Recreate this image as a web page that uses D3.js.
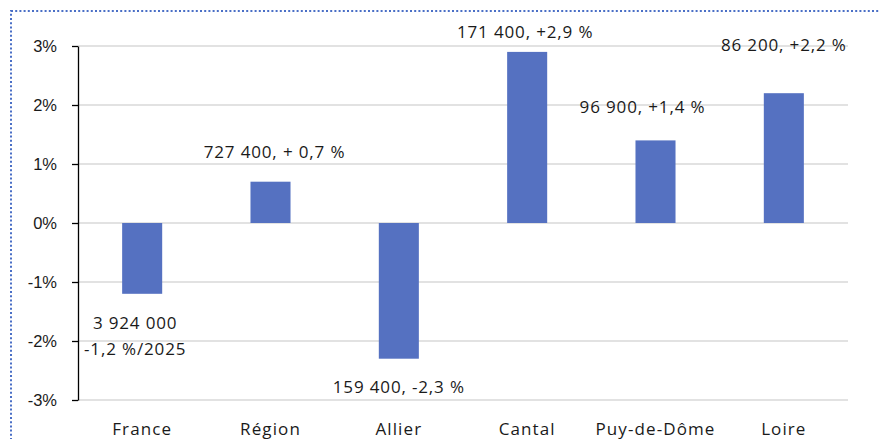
<!DOCTYPE html>
<html>
<head>
<meta charset="utf-8">
<script src="https://cdn.jsdelivr.net/npm/d3@7"></script>
<style>
  html, body { margin: 0; padding: 0; background: #fff; overflow: hidden; }
  .tick-label { font-family: "Liberation Sans", Arial, sans-serif; font-size: 16.5px; fill: #1a1a1a; }
  .cat-label { font-family: "Open Sans", "Noto Sans", sans-serif; font-size: 17px; letter-spacing: 1.1px; fill: #1a1a1a; }
  .val-label { font-family: "Open Sans", "Noto Sans", sans-serif; font-size: 17px; letter-spacing: 0.85px; fill: #1a1a1a; }
</style>
</head>
<body>
<div id="chart"></div>
<script>
// data
const categories = ['France', 'Région', 'Allier', 'Cantal', 'Puy-de-Dôme', 'Loire'];
const changes = [-1.2, 0.7, -2.3, 2.9, 1.4, 2.2];
const valueLabels = [
    ['3 924 000', '-1,2 %/2025'],
    ['727 400, + 0,7 %'],
    ['159 400, -2,3 %'],
    ['171 400, +2,9 %'],
    ['96 900, +1,4 %'],
    ['86 200, +2,2 %']
];
const yTicks = [-3, -2, -1, 0, 1, 2, 3];

// label nudges (labels were placed by hand in the original)
const labelNudge = [[-7, 35], [4, -24], [0, 34], [-2, -14], [-13, -27], [0, -42]];

const width = 880, height = 439;
const margin = {left: 78, right: 32, top: 46, bottom: 39};

const svg = d3.select('#chart').append('svg')
    .attr('width', width)
    .attr('height', height);

// dotted frame
svg.append('rect')
    .attr('x', 11).attr('y', 11)
    .attr('width', width + 20).attr('height', height + 20)
    .attr('fill', 'none')
    .attr('stroke', '#4a6fc6')
    .attr('stroke-width', 2)
    .attr('stroke-dasharray', '2,2.2');

const x = d3.scaleBand()
    .domain(categories)
    .range([margin.left, width - margin.right])
    .paddingInner(0.688)
    .paddingOuter(0.344);

const y = d3.scaleLinear()
    .domain([-3, 3])
    .range([height - margin.bottom, margin.top]);

// gridlines
svg.append('g')
    .selectAll('line')
    .data(yTicks)
    .join('line')
    .attr('x1', margin.left)
    .attr('x2', width - margin.right)
    .attr('y1', d => y(d))
    .attr('y2', d => y(d))
    .attr('stroke', '#d9d9d9')
    .attr('stroke-width', 1.5);

// y axis
const yAxis = svg.append('g')
    .attr('transform', `translate(${margin.left},0)`)
    .call(d3.axisLeft(y).tickValues(yTicks).tickSize(6).tickSizeOuter(0).tickFormat(d => d + '%'));
yAxis.select('.domain').attr('stroke', '#000').attr('stroke-width', 1.3);
yAxis.selectAll('.tick line').attr('stroke', '#000').attr('stroke-width', 1.3);
yAxis.selectAll('.tick text')
    .attr('class', 'tick-label')
    .attr('x', -21)
    .attr('font-family', null)
    .attr('font-size', null);

// bars
svg.append('g')
    .selectAll('rect')
    .data(categories)
    .join('rect')
    .attr('x', d => x(d))
    .attr('width', x.bandwidth())
    .attr('y', (d, i) => y(Math.max(0, changes[i])))
    .attr('height', (d, i) => Math.abs(y(changes[i]) - y(0)))
    .attr('fill', '#5571c1');

// category labels
svg.append('g')
    .selectAll('text')
    .data(categories)
    .join('text')
    .attr('class', 'cat-label')
    .attr('x', d => x(d) + x.bandwidth() / 2)
    .attr('y', height - 4)
    .attr('text-anchor', 'middle')
    .text(d => d);

// value labels
const vl = svg.append('g')
    .selectAll('text')
    .data(categories)
    .join('text')
    .attr('class', 'val-label')
    .attr('text-anchor', 'middle')
    .attr('x', (d, i) => x(d) + x.bandwidth() / 2 + labelNudge[i][0])
    .attr('y', (d, i) => y(changes[i]) + labelNudge[i][1]);

vl.selectAll('tspan')
    .data((d, i) => valueLabels[i].map(t => ({t, i})))
    .join('tspan')
    .attr('x', function () { return this.parentNode.getAttribute('x'); })
    .attr('dy', (d, j) => j === 0 ? 0 : 26)
    .text(d => d.t);
</script>
</body>
</html>
